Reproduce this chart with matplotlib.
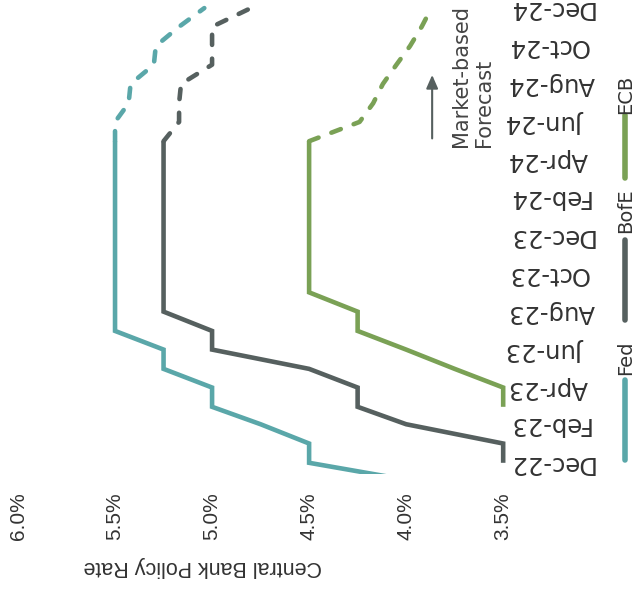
import numpy as np
import pandas as pd
import matplotlib
matplotlib.use('Agg')
import matplotlib.pyplot as plt
from matplotlib.lines import Line2D

# Policy rates (upper bound / main rate), monthly, plus market-implied path.
fed_dates = pd.date_range('2022-11-01', '2024-05-01', freq='MS')
fed_rate = [3.95, 4.5, 4.5, 4.75, 5.0, 5.0, 5.25, 5.25, 5.5, 5.5, 5.5, 5.5,
            5.5, 5.5, 5.5, 5.5, 5.5, 5.5, 5.5]
boe_dates = pd.date_range('2022-12-01', '2024-05-01', freq='MS')
boe_rate = [3.5, 3.5, 4.0, 4.25, 4.25, 4.5, 5.0, 5.0, 5.25, 5.25, 5.25, 5.25,
            5.25, 5.25, 5.25, 5.25, 5.25, 5.25]
ecb_dates = pd.date_range('2023-03-01', '2024-05-01', freq='MS')
ecb_rate = [3.5, 3.5, 3.75, 4.0, 4.25, 4.25, 4.5, 4.5, 4.5, 4.5, 4.5, 4.5,
            4.5, 4.5, 4.5]

fcst_dates = pd.date_range('2024-05-01', '2024-12-01', freq='MS')
fed_fcst = [5.5, 5.5, 5.43, 5.42, 5.30, 5.29, 5.17, 5.04]
boe_fcst = [5.25, 5.17, 5.17, 5.16, 5.0, 5.0, 5.0, 4.8]
ecb_fcst = [4.5, 4.24, 4.17, 4.12, 4.05, 3.98, 3.92, 3.87]

rate_ticks = [6.0, 5.5, 5.0, 4.5, 4.0, 3.5]
rate_labels = ['6.0%', '5.5%', '5.0%', '4.5%', '4.0%', '3.5%']
month_ticks = pd.date_range('2022-12-01', '2024-12-01', freq='2MS')
month_labels = [d.strftime('%b-%y') for d in month_ticks]

series = [
    ('Fed', fed_dates, fed_rate, fed_fcst, '#5aa7a9'),
    ('BofE', boe_dates, boe_rate, boe_fcst, '#56605f'),
    ('ECB', ecb_dates, ecb_rate, ecb_fcst, '#7aa155'),
]

W, H = 632, 593
fig = plt.figure(figsize=(W / 100, H / 100), dpi=100)
ax = fig.add_axes([18 / W, 1 - 474 / H, 491 / W, 474 / H])

lw = 3.3
for name, dts, vals, fc, col in series:
    ax.plot(vals, dts, color=col, lw=lw, solid_capstyle='butt',
            solid_joinstyle='miter')
    ax.plot(fc, fcst_dates, color=col, lw=lw, ls=(0, (2.2, 3.0)),
            dash_capstyle='round')

ax.set_xlim(6.0, 3.47)
ax.set_ylim(pd.Timestamp('2022-11-13'), pd.Timestamp('2024-12-14'))

ax.set_xticks(rate_ticks, labels=rate_labels, rotation=90,
              fontsize=15, family='Liberation Sans', color='#333333')
ax.tick_params(axis='x', length=0, pad=13.5)
ax.yaxis.tick_right()
ax.set_yticks(month_ticks, labels=month_labels, rotation=180, va='center',
              ha='left', fontsize=17.5, family='DejaVu Sans', color='#333333')
ax.tick_params(axis='y', length=0, pad=-1)
for sp in ax.spines.values():
    sp.set_visible(False)

fig.text(203 / W, 1 - 567 / H, 'Central Bank Policy Rate', rotation=180,
         ha='center', va='center', fontsize=15.5, family='Liberation Sans',
         color='#333333')

# forecast marker
ax.annotate('', xy=(3.866, pd.Timestamp('2024-08-20')),
            xytext=(3.866, pd.Timestamp('2024-05-01')),
            arrowprops=dict(arrowstyle='-|>,head_length=0.8,head_width=0.35',
                            color='#56605f', lw=1.5))
ax.text(3.66, pd.Timestamp('2024-04-21'), 'Market-based\nForecast',
        rotation=90, ha='center', va='bottom', multialignment='left',
        fontsize=15, family='DejaVu Sans', color='#444444')

# legend drawn along the right edge
leg = [('Fed', 460, 380, 358), ('BofE', 320, 240, 211), ('ECB', 178, 115, 94)]
for (name, y0, y1, ty), (_, _, _, _, col) in zip(leg, series):
    fig.add_artist(Line2D([625 / W, 625 / W], [1 - y0 / H, 1 - y1 / H],
                          color=col, lw=4, solid_capstyle='round'))
    fig.text(626 / W, 1 - ty / H, name, rotation=90, ha='center', va='center',
             fontsize=14, family='DejaVu Sans', color='#333333')

fig.savefig('out.png', dpi=100, facecolor='white')
